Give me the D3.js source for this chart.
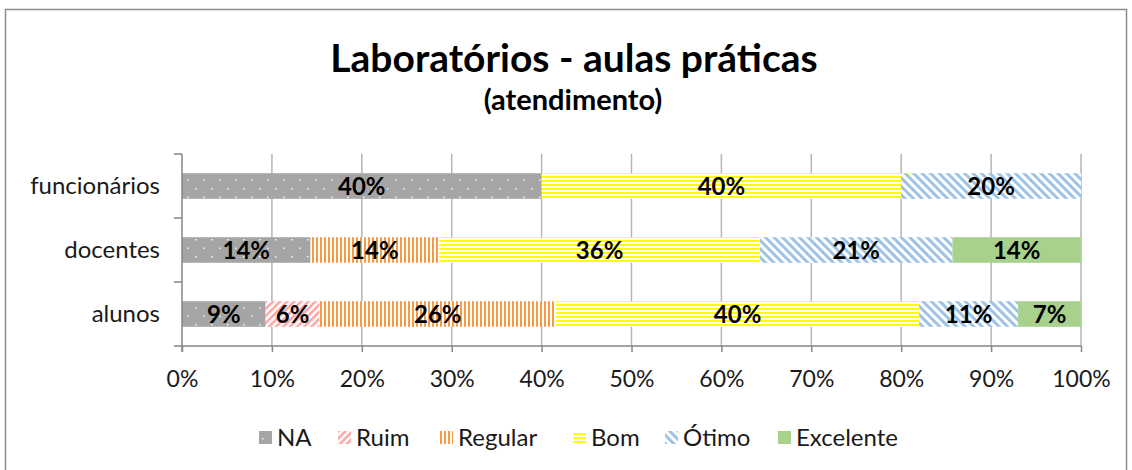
<!DOCTYPE html>
<html>
<head>
<meta charset="utf-8">
<script src="https://cdn.jsdelivr.net/npm/d3@7"></script>
<style>
  body { margin: 0; background: #fff; }
  text { font-family: Lato, "Open Sans", sans-serif; }
</style>
</head>
<body>
<svg id="chart" width="1132" height="470"></svg>
<script>
// Data (percent of respondents)
var groups = ["funcionários", "docentes", "alunos"];
var ratings = ["NA", "Ruim", "Regular", "Bom", "Ótimo", "Excelente"];
var naValues        = [40, 14.3, 9.3];
var ruimValues      = [0, 0, 6.0];
var regularValues   = [0, 14.3, 26.3];
var bomValues       = [40, 35.7, 40.4];
var otimoValues     = [20, 21.4, 11.0];
var excelenteValues = [0, 14.3, 7.0];
var xTicks = [0, 10, 20, 30, 40, 50, 60, 70, 80, 90, 100];

var seriesValues = [naValues, ruimValues, regularValues, bomValues, otimoValues, excelenteValues];

var svg = d3.select("#chart");

// Chart frame
svg.append("rect")
    .attr("x", 5.5).attr("y", 9.5)
    .attr("width", 1121).attr("height", 470)
    .attr("fill", "#fff")
    .attr("stroke", "#8c8c8c")
    .attr("stroke-width", 1.5);

// Fill patterns, one per rating
var defs = svg.append("defs");

var pNA = defs.append("pattern").attr("id", "pat-NA")
    .attr("patternUnits", "userSpaceOnUse").attr("width", 16).attr("height", 17);
pNA.append("rect").attr("width", 16).attr("height", 17).attr("fill", "#a5a5a5");
pNA.append("rect").attr("x", 3).attr("y", 1).attr("width", 1.5).attr("height", 1.5).attr("fill", "#f2f2f2");
pNA.append("rect").attr("x", 11).attr("y", 9.5).attr("width", 1.5).attr("height", 1.5).attr("fill", "#f2f2f2");

var pRuim = defs.append("pattern").attr("id", "pat-Ruim")
    .attr("patternUnits", "userSpaceOnUse").attr("width", 5).attr("height", 5)
    .attr("patternTransform", "rotate(45)");
pRuim.append("rect").attr("width", 5).attr("height", 5).attr("fill", "#fff");
pRuim.append("rect").attr("width", 2.5).attr("height", 5).attr("fill", "#ffa3a3");

var pReg = defs.append("pattern").attr("id", "pat-Regular")
    .attr("patternUnits", "userSpaceOnUse").attr("width", 4).attr("height", 4);
pReg.append("rect").attr("width", 4).attr("height", 4).attr("fill", "#fff");
pReg.append("rect").attr("width", 2).attr("height", 4).attr("fill", "#f79a46");

var pBom = defs.append("pattern").attr("id", "pat-Bom")
    .attr("patternUnits", "userSpaceOnUse").attr("width", 4).attr("height", 4);
pBom.append("rect").attr("width", 4).attr("height", 4).attr("fill", "#fff");
pBom.append("rect").attr("width", 4).attr("height", 2).attr("fill", "#ffff00");

var pOtimo = defs.append("pattern").attr("id", "pat-Ótimo")
    .attr("patternUnits", "userSpaceOnUse").attr("width", 6).attr("height", 6)
    .attr("patternTransform", "rotate(-45)");
pOtimo.append("rect").attr("width", 6).attr("height", 6).attr("fill", "#fff");
pOtimo.append("rect").attr("width", 3).attr("height", 6).attr("fill", "#9dc3e6");

var fills = {
    "NA": "url(#pat-NA)",
    "Ruim": "url(#pat-Ruim)",
    "Regular": "url(#pat-Regular)",
    "Bom": "url(#pat-Bom)",
    "Ótimo": "url(#pat-Ótimo)",
    "Excelente": "#a9d18e"
};

// Title
svg.append("text")
    .attr("x", 574).attr("y", 72)
    .attr("text-anchor", "middle")
    .attr("font-size", "39px").attr("font-weight", "bold")
    .attr("fill", "#000")
    .text("Laboratórios - aulas práticas");
svg.append("text")
    .attr("x", 573).attr("y", 110)
    .attr("text-anchor", "middle")
    .attr("font-size", "29px").attr("font-weight", "bold")
    .attr("fill", "#000")
    .text("(atendimento)");

// Scales
var x = d3.scaleLinear().domain([0, 100]).range([182, 1081]);
var y = d3.scaleBand().domain(groups).range([154, 346])
          .paddingInner(0.6).paddingOuter(0.3);

// Gridlines
svg.append("g").selectAll("line")
    .data(xTicks.slice(1))
    .join("line")
    .attr("x1", d => x(d)).attr("x2", d => x(d))
    .attr("y1", 154).attr("y2", 346)
    .attr("stroke", "#b5b5b5").attr("stroke-width", 1.5);

// Stack the series
var rows = groups.map(function(g, i) {
    var row = {group: g};
    ratings.forEach(function(r, k) { row[r] = seriesValues[k][i]; });
    return row;
});
var stacked = d3.stack().keys(ratings)(rows);

var layers = svg.append("g").selectAll("g")
    .data(stacked)
    .join("g")
    .attr("fill", d => fills[d.key]);

layers.selectAll("rect")
    .data(d => d.filter(s => s[1] - s[0] > 0))
    .join("rect")
    .attr("x", d => x(d[0]))
    .attr("width", d => x(d[1]) - x(d[0]))
    .attr("y", d => y(d.data.group))
    .attr("height", y.bandwidth());

// Segment labels
layers.selectAll("text")
    .data(d => d.filter(s => s[1] - s[0] > 0))
    .join("text")
    .attr("x", d => (x(d[0]) + x(d[1])) / 2)
    .attr("y", d => y(d.data.group) + y.bandwidth() / 2)
    .attr("dy", "0.36em")
    .attr("text-anchor", "middle")
    .attr("font-size", "24px").attr("font-weight", "bold")
    .attr("fill", "#000")
    .text(d => Math.round(d[1] - d[0]) + "%");

// Y axis
var yAxis = svg.append("g")
    .attr("transform", "translate(182,0)")
    .call(d3.axisLeft(y).tickSize(0).tickPadding(22));
yAxis.select(".domain").remove();
yAxis.selectAll("text").attr("font-size", "24px").attr("fill", "#1a1a1a")
    .attr("font-family", "Lato, sans-serif");
svg.append("line")
    .attr("x1", 182).attr("x2", 182).attr("y1", 154).attr("y2", 352)
    .attr("stroke", "#868686").attr("stroke-width", 1.5);
svg.append("g").selectAll("line")
    .data([154, 218, 282, 346])
    .join("line")
    .attr("x1", 174).attr("x2", 182)
    .attr("y1", d => d).attr("y2", d => d)
    .attr("stroke", "#868686").attr("stroke-width", 1.5);

// X axis
var xAxis = svg.append("g")
    .attr("transform", "translate(0,346)")
    .call(d3.axisBottom(x).tickValues(xTicks).tickSize(6).tickPadding(19)
            .tickFormat(d => d + "%"));
xAxis.select(".domain").attr("stroke", "#868686").attr("stroke-width", 1.5)
    .attr("d", "M182,0H1081");
xAxis.selectAll(".tick line").attr("stroke", "#868686").attr("stroke-width", 1.5);
xAxis.selectAll("text").attr("font-size", "23px").attr("fill", "#1a1a1a")
    .attr("font-family", "Lato, sans-serif");

// Legend
var legendX = [259, 338, 440, 573, 665, 778];
var legend = svg.append("g").selectAll("g")
    .data(ratings)
    .join("g")
    .attr("transform", (d, i) => "translate(" + legendX[i] + ",437)");
legend.append("rect")
    .attr("x", 0).attr("y", -6)
    .attr("width", 13).attr("height", 13)
    .attr("fill", d => fills[d]);
legend.append("text")
    .attr("x", 18).attr("dy", "0.36em")
    .attr("font-size", "24px").attr("fill", "#1a1a1a")
    .text(d => d);
</script>
</body>
</html>
